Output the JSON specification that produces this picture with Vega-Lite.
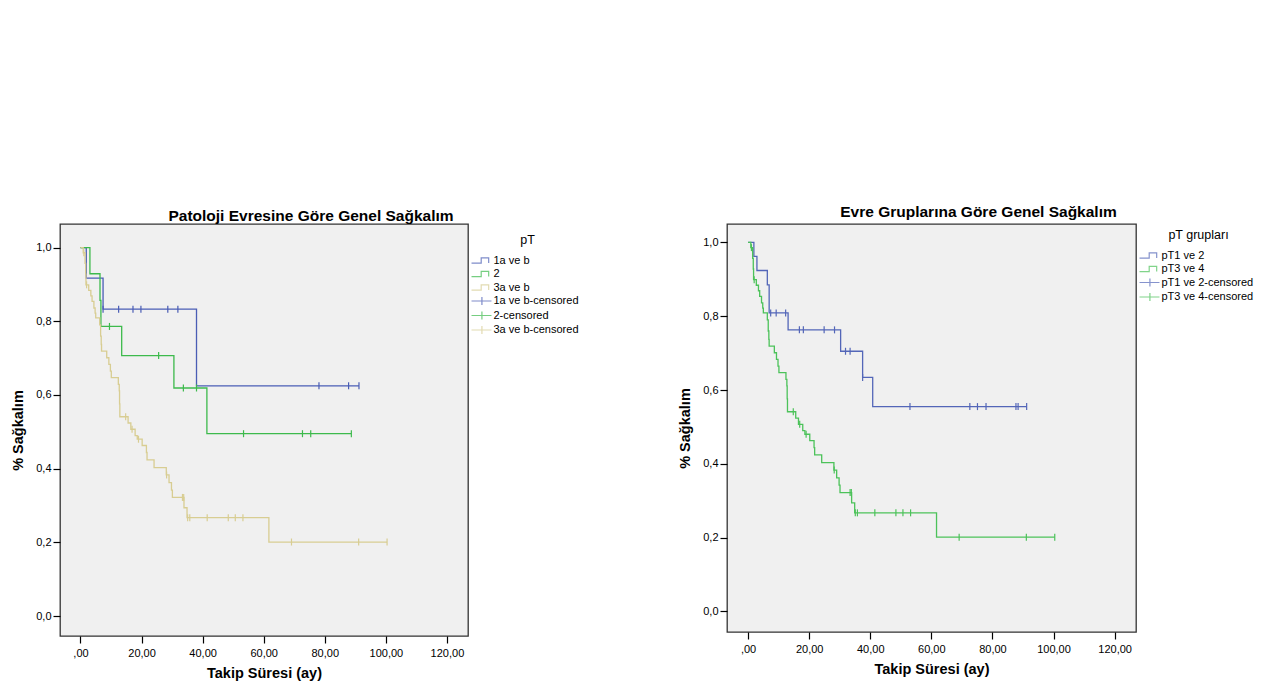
{
  "$schema": "https://vega.github.io/schema/vega-lite/v6.json",
  "background": "white",
  "padding": {"left": 10, "top": 204, "right": 0, "bottom": 0},
  "config": {
    "font": "Liberation Sans",
    "view": {"fill": "#f0f0f0", "stroke": "#333333", "strokeWidth": 1.3},
    "axis": {"domain": false, "grid": false, "ticks": true, "tickColor": "#000000", "tickSize": 7, "tickWidth": 1.2, "labelFont": "Liberation Sans", "labelFontSize": 11, "labelColor": "#000000", "titleFont": "Liberation Sans", "titleFontSize": 14.5, "titleFontWeight": "bold", "titleColor": "#000000"},
    "legend": {"titleFont": "Liberation Sans", "titleFontWeight": "normal", "titleFontSize": 12.5, "titleColor": "#000000", "titleAnchor": "middle", "titlePadding": 7, "labelFont": "Liberation Sans", "labelFontSize": 11, "labelColor": "#000000", "symbolSize": 169, "symbolStrokeWidth": 1.2, "symbolFillColor": "transparent", "rowPadding": 0.5, "labelOffset": 2},
    "title": {"font": "Liberation Sans", "fontSize": 15.5, "fontWeight": "bold", "color": "#000000", "anchor": "middle", "frame": "group", "dx": 47},
    "concat": {"spacing": 88}
  },
  "datasets": {
    "leftCurves": [
      {"series": "1a ve b", "t": 0, "s": 1.0},
      {"series": "1a ve b", "t": 1.9, "s": 0.917},
      {"series": "1a ve b", "t": 7.4, "s": 0.833},
      {"series": "1a ve b", "t": 38.0, "s": 0.625},
      {"series": "1a ve b", "t": 91.2, "s": 0.625},
      {"series": "2", "t": 0, "s": 1.0},
      {"series": "2", "t": 3.1, "s": 0.929},
      {"series": "2", "t": 6.4, "s": 0.857},
      {"series": "2", "t": 6.7, "s": 0.786},
      {"series": "2", "t": 13.5, "s": 0.707},
      {"series": "2", "t": 30.6, "s": 0.619},
      {"series": "2", "t": 41.4, "s": 0.495},
      {"series": "2", "t": 88.7, "s": 0.495},
      {"series": "3a ve b", "t": 0, "s": 1.0},
      {"series": "3a ve b", "t": 0.9, "s": 0.986},
      {"series": "3a ve b", "t": 1.5, "s": 0.957},
      {"series": "3a ve b", "t": 1.7, "s": 0.928},
      {"series": "3a ve b", "t": 1.8, "s": 0.899},
      {"series": "3a ve b", "t": 2.7, "s": 0.884},
      {"series": "3a ve b", "t": 3.4, "s": 0.869},
      {"series": "3a ve b", "t": 3.8, "s": 0.854},
      {"series": "3a ve b", "t": 4.4, "s": 0.836},
      {"series": "3a ve b", "t": 4.8, "s": 0.822},
      {"series": "3a ve b", "t": 5.0, "s": 0.809},
      {"series": "3a ve b", "t": 6.3, "s": 0.790},
      {"series": "3a ve b", "t": 6.6, "s": 0.760},
      {"series": "3a ve b", "t": 6.8, "s": 0.737},
      {"series": "3a ve b", "t": 6.9, "s": 0.719},
      {"series": "3a ve b", "t": 8.6, "s": 0.701},
      {"series": "3a ve b", "t": 9.3, "s": 0.683},
      {"series": "3a ve b", "t": 9.8, "s": 0.665},
      {"series": "3a ve b", "t": 10.1, "s": 0.647},
      {"series": "3a ve b", "t": 12.4, "s": 0.629},
      {"series": "3a ve b", "t": 12.7, "s": 0.611},
      {"series": "3a ve b", "t": 12.8, "s": 0.576},
      {"series": "3a ve b", "t": 12.9, "s": 0.541},
      {"series": "3a ve b", "t": 15.6, "s": 0.524},
      {"series": "3a ve b", "t": 16.5, "s": 0.507},
      {"series": "3a ve b", "t": 17.9, "s": 0.490},
      {"series": "3a ve b", "t": 18.6, "s": 0.480},
      {"series": "3a ve b", "t": 20.2, "s": 0.463},
      {"series": "3a ve b", "t": 21.6, "s": 0.444},
      {"series": "3a ve b", "t": 21.8, "s": 0.424},
      {"series": "3a ve b", "t": 24.1, "s": 0.403},
      {"series": "3a ve b", "t": 28.1, "s": 0.383},
      {"series": "3a ve b", "t": 29.0, "s": 0.362},
      {"series": "3a ve b", "t": 29.8, "s": 0.342},
      {"series": "3a ve b", "t": 30.1, "s": 0.322},
      {"series": "3a ve b", "t": 33.9, "s": 0.294},
      {"series": "3a ve b", "t": 34.9, "s": 0.267},
      {"series": "3a ve b", "t": 61.7, "s": 0.201},
      {"series": "3a ve b", "t": 100.4, "s": 0.201}
    ],
    "leftCens": [
      {"series": "1a ve b-censored", "t": 7.4, "s": 0.833},
      {"series": "1a ve b-censored", "t": 12.5, "s": 0.833},
      {"series": "1a ve b-censored", "t": 17.2, "s": 0.833},
      {"series": "1a ve b-censored", "t": 19.8, "s": 0.833},
      {"series": "1a ve b-censored", "t": 28.6, "s": 0.833},
      {"series": "1a ve b-censored", "t": 31.9, "s": 0.833},
      {"series": "1a ve b-censored", "t": 78.1, "s": 0.625},
      {"series": "1a ve b-censored", "t": 87.8, "s": 0.625},
      {"series": "1a ve b-censored", "t": 91.2, "s": 0.625},
      {"series": "2-censored", "t": 9.5, "s": 0.786},
      {"series": "2-censored", "t": 25.6, "s": 0.707},
      {"series": "2-censored", "t": 33.7, "s": 0.619},
      {"series": "2-censored", "t": 38.0, "s": 0.619},
      {"series": "2-censored", "t": 53.4, "s": 0.495},
      {"series": "2-censored", "t": 72.7, "s": 0.495},
      {"series": "2-censored", "t": 75.4, "s": 0.495},
      {"series": "2-censored", "t": 88.7, "s": 0.495},
      {"series": "3a ve b-censored", "t": 1.1, "s": 0.986},
      {"series": "3a ve b-censored", "t": 2.0, "s": 0.899},
      {"series": "3a ve b-censored", "t": 14.8, "s": 0.541},
      {"series": "3a ve b-censored", "t": 16.9, "s": 0.507},
      {"series": "3a ve b-censored", "t": 19.0, "s": 0.480},
      {"series": "3a ve b-censored", "t": 28.2, "s": 0.383},
      {"series": "3a ve b-censored", "t": 33.4, "s": 0.322},
      {"series": "3a ve b-censored", "t": 33.8, "s": 0.322},
      {"series": "3a ve b-censored", "t": 35.1, "s": 0.267},
      {"series": "3a ve b-censored", "t": 35.8, "s": 0.267},
      {"series": "3a ve b-censored", "t": 41.5, "s": 0.267},
      {"series": "3a ve b-censored", "t": 48.4, "s": 0.267},
      {"series": "3a ve b-censored", "t": 50.7, "s": 0.267},
      {"series": "3a ve b-censored", "t": 53.2, "s": 0.267},
      {"series": "3a ve b-censored", "t": 69.1, "s": 0.201},
      {"series": "3a ve b-censored", "t": 91.1, "s": 0.201},
      {"series": "3a ve b-censored", "t": 100.4, "s": 0.201}
    ],
    "rightCurves": [
      {"series": "pT1 ve 2", "t": 0, "s": 1.0},
      {"series": "pT1 ve 2", "t": 1.9, "s": 0.962},
      {"series": "pT1 ve 2", "t": 2.9, "s": 0.924},
      {"series": "pT1 ve 2", "t": 6.3, "s": 0.885},
      {"series": "pT1 ve 2", "t": 6.9, "s": 0.809},
      {"series": "pT1 ve 2", "t": 13.1, "s": 0.763},
      {"series": "pT1 ve 2", "t": 30.3, "s": 0.705},
      {"series": "pT1 ve 2", "t": 37.5, "s": 0.634},
      {"series": "pT1 ve 2", "t": 40.8, "s": 0.555},
      {"series": "pT1 ve 2", "t": 91.2, "s": 0.555},
      {"series": "pT3 ve 4", "t": 0, "s": 1.0},
      {"series": "pT3 ve 4", "t": 0.9, "s": 0.986},
      {"series": "pT3 ve 4", "t": 1.5, "s": 0.957},
      {"series": "pT3 ve 4", "t": 1.7, "s": 0.928},
      {"series": "pT3 ve 4", "t": 1.8, "s": 0.899},
      {"series": "pT3 ve 4", "t": 2.7, "s": 0.884},
      {"series": "pT3 ve 4", "t": 3.4, "s": 0.869},
      {"series": "pT3 ve 4", "t": 3.8, "s": 0.854},
      {"series": "pT3 ve 4", "t": 4.4, "s": 0.836},
      {"series": "pT3 ve 4", "t": 4.8, "s": 0.822},
      {"series": "pT3 ve 4", "t": 5.0, "s": 0.809},
      {"series": "pT3 ve 4", "t": 6.3, "s": 0.790},
      {"series": "pT3 ve 4", "t": 6.6, "s": 0.760},
      {"series": "pT3 ve 4", "t": 6.8, "s": 0.737},
      {"series": "pT3 ve 4", "t": 6.9, "s": 0.719},
      {"series": "pT3 ve 4", "t": 8.6, "s": 0.701},
      {"series": "pT3 ve 4", "t": 9.3, "s": 0.683},
      {"series": "pT3 ve 4", "t": 9.8, "s": 0.665},
      {"series": "pT3 ve 4", "t": 10.1, "s": 0.647},
      {"series": "pT3 ve 4", "t": 12.4, "s": 0.629},
      {"series": "pT3 ve 4", "t": 12.7, "s": 0.611},
      {"series": "pT3 ve 4", "t": 12.8, "s": 0.576},
      {"series": "pT3 ve 4", "t": 12.9, "s": 0.541},
      {"series": "pT3 ve 4", "t": 15.6, "s": 0.524},
      {"series": "pT3 ve 4", "t": 16.5, "s": 0.507},
      {"series": "pT3 ve 4", "t": 17.9, "s": 0.490},
      {"series": "pT3 ve 4", "t": 18.6, "s": 0.480},
      {"series": "pT3 ve 4", "t": 20.2, "s": 0.463},
      {"series": "pT3 ve 4", "t": 21.6, "s": 0.444},
      {"series": "pT3 ve 4", "t": 21.8, "s": 0.424},
      {"series": "pT3 ve 4", "t": 24.1, "s": 0.403},
      {"series": "pT3 ve 4", "t": 28.1, "s": 0.383},
      {"series": "pT3 ve 4", "t": 29.0, "s": 0.362},
      {"series": "pT3 ve 4", "t": 29.8, "s": 0.342},
      {"series": "pT3 ve 4", "t": 30.1, "s": 0.322},
      {"series": "pT3 ve 4", "t": 33.9, "s": 0.294},
      {"series": "pT3 ve 4", "t": 34.9, "s": 0.267},
      {"series": "pT3 ve 4", "t": 61.7, "s": 0.201},
      {"series": "pT3 ve 4", "t": 100.4, "s": 0.201}
    ],
    "rightCens": [
      {"series": "pT1 ve 2-censored", "t": 7.4, "s": 0.809},
      {"series": "pT1 ve 2-censored", "t": 9.2, "s": 0.809},
      {"series": "pT1 ve 2-censored", "t": 12.3, "s": 0.809},
      {"series": "pT1 ve 2-censored", "t": 16.8, "s": 0.763},
      {"series": "pT1 ve 2-censored", "t": 18.1, "s": 0.763},
      {"series": "pT1 ve 2-censored", "t": 24.9, "s": 0.763},
      {"series": "pT1 ve 2-censored", "t": 28.3, "s": 0.763},
      {"series": "pT1 ve 2-censored", "t": 31.9, "s": 0.705},
      {"series": "pT1 ve 2-censored", "t": 33.4, "s": 0.705},
      {"series": "pT1 ve 2-censored", "t": 37.5, "s": 0.634},
      {"series": "pT1 ve 2-censored", "t": 53.0, "s": 0.555},
      {"series": "pT1 ve 2-censored", "t": 72.6, "s": 0.555},
      {"series": "pT1 ve 2-censored", "t": 75.1, "s": 0.555},
      {"series": "pT1 ve 2-censored", "t": 77.9, "s": 0.555},
      {"series": "pT1 ve 2-censored", "t": 87.7, "s": 0.555},
      {"series": "pT1 ve 2-censored", "t": 88.4, "s": 0.555},
      {"series": "pT1 ve 2-censored", "t": 91.2, "s": 0.555},
      {"series": "pT3 ve 4-censored", "t": 1.1, "s": 0.986},
      {"series": "pT3 ve 4-censored", "t": 2.0, "s": 0.899},
      {"series": "pT3 ve 4-censored", "t": 14.8, "s": 0.541},
      {"series": "pT3 ve 4-censored", "t": 16.9, "s": 0.507},
      {"series": "pT3 ve 4-censored", "t": 19.0, "s": 0.480},
      {"series": "pT3 ve 4-censored", "t": 28.2, "s": 0.383},
      {"series": "pT3 ve 4-censored", "t": 33.4, "s": 0.322},
      {"series": "pT3 ve 4-censored", "t": 33.8, "s": 0.322},
      {"series": "pT3 ve 4-censored", "t": 35.1, "s": 0.267},
      {"series": "pT3 ve 4-censored", "t": 35.8, "s": 0.267},
      {"series": "pT3 ve 4-censored", "t": 41.5, "s": 0.267},
      {"series": "pT3 ve 4-censored", "t": 48.4, "s": 0.267},
      {"series": "pT3 ve 4-censored", "t": 50.7, "s": 0.267},
      {"series": "pT3 ve 4-censored", "t": 53.2, "s": 0.267},
      {"series": "pT3 ve 4-censored", "t": 69.1, "s": 0.201},
      {"series": "pT3 ve 4-censored", "t": 91.1, "s": 0.201},
      {"series": "pT3 ve 4-censored", "t": 100.4, "s": 0.201}
    ]
  },
  "hconcat": [
    {
      "title": {"text": "Patoloji Evresine Göre Genel Sağkalım", "offset": 0},
      "width": 408,
      "height": 412,
      "layer": [
        {
          "data": {"name": "leftCurves"},
          "mark": {"type": "line", "interpolate": "step-after", "strokeWidth": 1.3},
          "encoding": {
            "x": {"field": "t", "type": "quantitative", "scale": {"domain": [-6.7, 126.9], "nice": false, "zero": false}, "axis": {"title": "Takip Süresi (ay)", "values": [0, 20, 40, 60, 80, 100, 120], "labelExpr": "datum.value == 0 ? ',00' : replace(format(datum.value, '.2f'), '.', ',')", "labelPadding": 4, "titlePadding": 8}},
            "y": {"field": "s", "type": "quantitative", "scale": {"domain": [-0.054, 1.064], "nice": false, "zero": false}, "axis": {"title": "% Sağkalım", "values": [0, 0.2, 0.4, 0.6, 0.8, 1.0], "labelExpr": "replace(format(datum.value, '.1f'), '.', ',')", "labelPadding": 2, "titlePadding": 10}},
            "color": {"field": "series", "type": "nominal", "scale": {"domain": ["1a ve b", "2", "3a ve b", "1a ve b-censored", "2-censored", "3a ve b-censored"], "range": ["#4a5db5", "#3dba4c", "#d8cd92", "#4a5db5", "#3dba4c", "#d8cd92"]}, "legend": {"title": "pT", "padding": 9.5, "offset": -1.5}}
          }
        },
        {
          "data": {"name": "leftCens"},
          "mark": {"type": "rule", "strokeWidth": 1.2, "yOffset": -3.5, "y2Offset": 3.5},
          "encoding": {
            "x": {"field": "t", "type": "quantitative"},
            "y": {"field": "s", "type": "quantitative"},
            "y2": {"field": "s"},
            "color": {"field": "series", "type": "nominal", "legend": {"title": "pT", "padding": 9.5, "offset": -1.5}}
          }
        },
        {
          "data": {"name": "leftCens"},
          "mark": {"type": "point", "filled": false, "size": 0, "strokeWidth": 1.2},
          "encoding": {
            "x": {"field": "t", "type": "quantitative"},
            "y": {"field": "s", "type": "quantitative"},
            "color": {"field": "series", "type": "nominal", "legend": {"title": "pT", "padding": 9.5, "offset": -1.5}},
            "shape": {"field": "series", "type": "nominal", "scale": {"domain": ["1a ve b", "2", "3a ve b", "1a ve b-censored", "2-censored", "3a ve b-censored"], "range": ["M-1.92,0.4H-0.43V-0.4H0.72V0.4", "M-1.92,0.4H-0.43V-0.4H0.72V0.4", "M-1.92,0.4H-0.43V-0.4H0.72V0.4", "M-1.92,0H1.15M-0.32,-0.62V0.62", "M-1.92,0H1.15M-0.32,-0.62V0.62", "M-1.92,0H1.15M-0.32,-0.62V0.62"]}, "legend": {"title": "pT", "padding": 9.5, "offset": -1.5}}
          }
        }
      ]
    },
    {
      "title": {"text": "Evre Gruplarına Göre Genel Sağkalım", "offset": 3.5},
      "width": 409,
      "height": 408,
      "layer": [
        {
          "data": {"name": "rightCurves"},
          "mark": {"type": "line", "interpolate": "step-after", "strokeWidth": 1.3},
          "encoding": {
            "x": {"field": "t", "type": "quantitative", "scale": {"domain": [-6.9, 127.0], "nice": false, "zero": false}, "axis": {"title": "Takip Süresi (ay)", "values": [0, 20, 40, 60, 80, 100, 120], "labelExpr": "datum.value == 0 ? ',00' : replace(format(datum.value, '.2f'), '.', ',')", "labelPadding": 4, "titlePadding": 8}},
            "y": {"field": "s", "type": "quantitative", "scale": {"domain": [-0.056, 1.050], "nice": false, "zero": false}, "axis": {"title": "% Sağkalım", "values": [0, 0.2, 0.4, 0.6, 0.8, 1.0], "labelExpr": "replace(format(datum.value, '.1f'), '.', ',')", "labelPadding": 2, "titlePadding": 10}},
            "color": {"field": "series", "type": "nominal", "scale": {"domain": ["pT1 ve 2", "pT3 ve 4", "pT1 ve 2-censored", "pT3 ve 4-censored"], "range": ["#5366b8", "#4cc25a", "#5366b8", "#4cc25a"]}, "legend": {"title": "pT grupları", "padding": 4.5, "offset": 3.5}}
          }
        },
        {
          "data": {"name": "rightCens"},
          "mark": {"type": "rule", "strokeWidth": 1.2, "yOffset": -3.5, "y2Offset": 3.5},
          "encoding": {
            "x": {"field": "t", "type": "quantitative"},
            "y": {"field": "s", "type": "quantitative"},
            "y2": {"field": "s"},
            "color": {"field": "series", "type": "nominal", "legend": {"title": "pT grupları", "padding": 4.5, "offset": 3.5}}
          }
        },
        {
          "data": {"name": "rightCens"},
          "mark": {"type": "point", "filled": false, "size": 0, "strokeWidth": 1.2},
          "encoding": {
            "x": {"field": "t", "type": "quantitative"},
            "y": {"field": "s", "type": "quantitative"},
            "color": {"field": "series", "type": "nominal", "legend": {"title": "pT grupları", "padding": 4.5, "offset": 3.5}},
            "shape": {"field": "series", "type": "nominal", "scale": {"domain": ["pT1 ve 2", "pT3 ve 4", "pT1 ve 2-censored", "pT3 ve 4-censored"], "range": ["M-1.92,0.4H-0.43V-0.4H0.72V0.4", "M-1.92,0.4H-0.43V-0.4H0.72V0.4", "M-1.92,0H1.15M-0.32,-0.62V0.62", "M-1.92,0H1.15M-0.32,-0.62V0.62"]}, "legend": {"title": "pT grupları", "padding": 4.5, "offset": 3.5}}
          }
        }
      ]
    }
  ],
  "resolve": {
    "scale": {"color": "independent", "shape": "independent", "x": "independent", "y": "independent"},
    "legend": {"color": "independent", "shape": "independent"}
  }
}
